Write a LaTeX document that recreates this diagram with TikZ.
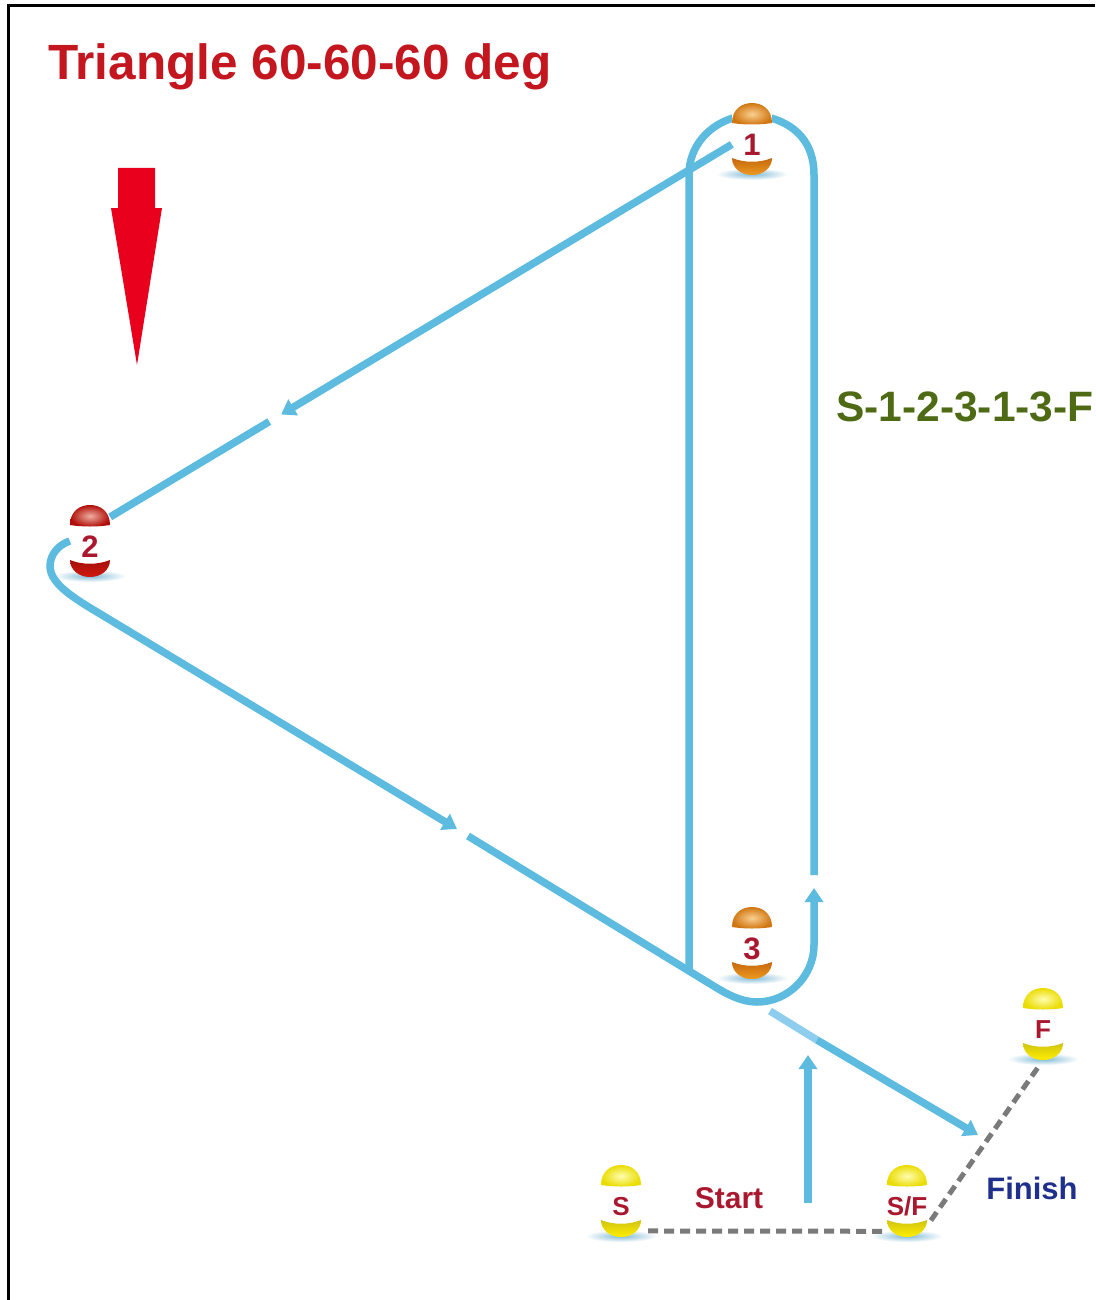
\documentclass[tikz,border=0pt]{standalone}
\usepackage{fontspec}
\setmainfont{Liberation Sans}
\usetikzlibrary{arrows.meta,calc}
\definecolor{routeblue}{HTML}{5CBBDE}
\definecolor{routepale}{HTML}{8FCDEE}
\definecolor{titlered}{HTML}{C4161F}
\definecolor{labelred}{HTML}{A9182E}
\definecolor{arrowred}{HTML}{E8001C}
\definecolor{pathgreen}{HTML}{4F6A14}
\definecolor{finishblue}{HTML}{1F2F8C}
\definecolor{dashgray}{HTML}{7A7A7A}
\definecolor{shadowblue}{HTML}{7FBAD6}
\definecolor{orangelight}{HTML}{FAD090}
\definecolor{orangemain}{HTML}{D07510}
\definecolor{orangedark}{HTML}{C4680E}
\definecolor{orangelow}{HTML}{EE9A20}
\definecolor{redlight}{HTML}{EEB0A0}
\definecolor{redmain}{HTML}{B00C08}
\definecolor{reddark}{HTML}{A50E0A}
\definecolor{redlow}{HTML}{D01A10}
\definecolor{yellowlight}{HTML}{FFFDB0}
\definecolor{yellowmain}{HTML}{EADC00}
\definecolor{yellowdark}{HTML}{D0C410}
\definecolor{yellowlow}{HTML}{FFEE00}
\newcommand{\fsz}[1]{\fontsize{#1}{#1}\selectfont}
% one pin: name, position, text, text size, colour
\newcommand{\pinball}[5]{
  \node[pinbody,font=\bfseries\fsz{#4}] (#1) at (#2) {\raisebox{\dimexpr-5pt-0.36em\relax}[0pt][0pt]{#3}};
  \begin{scope}[shift={(#2)}]
    \shade[inner color=shadowblue,outer color=white] (0,35) ellipse[x radius=36,y radius=6];
    \shade[inner color=#5light,outer color=#5main]
      (-20,-16) .. controls (-20,-29) and (-11,-36) .. (0,-36)
      .. controls (11,-36) and (20,-29) .. (20,-16)
      .. controls (8,-14) and (-8,-14) .. cycle;
    \shade[top color=#5dark,bottom color=#5low]
      (-20,19) .. controls (-8,24) and (8,24) .. (20,19)
      .. controls (20,29) and (11,36) .. (0,36)
      .. controls (-11,36) and (-20,29) .. cycle;
  \end{scope}
}

\begin{document}
\begin{tikzpicture}[
  x=1pt,y=-1pt,
  pinbody/.style={fill=white,inner sep=0pt,minimum width=40pt,minimum height=72pt,text=labelred},
  route/.style={draw=routeblue,line width=7.5pt},
  tipped/.style={route,-{Triangle[length=14pt,width=18pt]}},
  dashline/.style={draw=dashgray,line width=5pt,dash pattern=on 10pt off 6pt},
  lbl/.style={font=\bfseries\fsz{31},anchor=base}
]
\useasboundingbox (0,0) rectangle (1095,1300);
\fill[white] (0,0) rectangle (1095,1300);
\draw[black,line width=3pt] (8,1300) -- (8,6) -- (1095,6);

% route coordinates
\coordinate (bendL) at (50,566);
\coordinate (startTail) at (808,1203);
\coordinate (startTip) at (808,1055);
\coordinate (exitA) at (770,1011);
\coordinate (exitB) at (817,1040);
\coordinate (exitTip) at (978,1135);
\coordinate (lowA) at (107,618);
\coordinate (lowTip) at (457,829);
\coordinate (lowB) at (468,836);
\coordinate (lowC) at (712,985);
\coordinate (base) at (757,1002);
\coordinate (rightTip) at (814,888);
\coordinate (rightB) at (814,875);
\coordinate (rightC) at (814,175);
\coordinate (leftC) at (689,175);
\coordinate (leftD) at (689,970);

% routes go first, the pins sit on top
\draw[route] (rightB) -- (rightC) .. controls (814,142) and (795,125) .. (771,118);
\draw[route] (733,118) .. controls (710,125) and (689,145) .. (leftC) -- (leftD);
\pinball{pin1}{752,139}{1}{31}{orange}
\pinball{pin2}{90,541}{2}{31}{red}
\pinball{pin3}{752,943}{3}{31}{orange}
\pinball{pinS}{621,1201}{S}{26}{yellow}
\pinball{pinSF}{907,1201}{S/F}{26}{yellow}
\pinball{pinF}{1043,1024}{F}{26}{yellow}

% 1 to 2 with the gap
\draw[tipped] (pin1.195) -- ($(pin1.195)!0.725!(pin2.50)$);
\draw[route] ($(pin1.195)!0.744!(pin2.50)$) -- (pin2.50);

% 2 round to 3 and up the right side
\draw[tipped] (pin2.west) .. controls (58,545) and (50,555) .. (bendL)
  .. controls (50,585) and (77,600) .. (lowA) -- (lowTip);
\draw[tipped] (lowB) -- (lowC) .. controls (728,995) and (742,1002) .. (base)
  .. controls (788,1002) and (814,976) .. (814,945) -- (rightTip);

% start and finish legs
\draw[tipped] (startTail) -- (startTip);
\draw[draw=routepale,line width=7.5pt] (exitA) -- (exitB);
\draw[tipped] (exitB) -- (exitTip);
\draw[dashline,shorten <=7pt] (pinS.-56) -- (pinSF.-124);
\draw[dashline,shorten <=6pt,shorten >=8pt] (pinSF.-50) -- (pinF.south);

% big red arrow
\fill[arrowred] (118,168) -- (155,168) -- (155,208) -- (162,208) -- (137,365) -- (111,208) -- (118,208) -- cycle;

\node[anchor=base west,inner sep=0pt,text=titlered,font=\bfseries\fsz{49.5}] (title) at (48,80) {Triangle 60-60-60 deg};
\node[anchor=base west,inner sep=0pt,text=pathgreen,font=\bfseries\fsz{42.5}] (order) at (836,421) {S-1-2-3-1-3-F};
\node[lbl,text=labelred,inner sep=0pt,font=\bfseries\fsz{30}] (start) at (729,1208) {Start};
\node[lbl,text=finishblue,inner sep=0pt] (finish) at (1032,1199) {Finish};
\end{tikzpicture}
\end{document}
